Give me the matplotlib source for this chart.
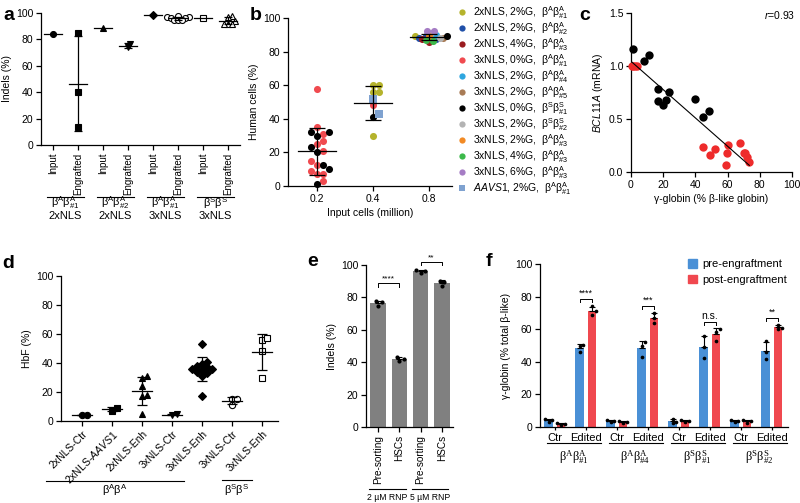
import numpy as np
import matplotlib
matplotlib.use('Agg')
import matplotlib.pyplot as plt
import matplotlib.transforms as mtransforms
from matplotlib.lines import Line2D
from matplotlib.patches import Patch

plt.rcParams.update({
    'font.family': ['Liberation Sans', 'DejaVu Sans'],
    'font.size': 7.5,
    'mathtext.fontset': 'custom',
    'mathtext.rm': 'Liberation Sans',
    'mathtext.it': 'Liberation Sans:italic',
    'mathtext.bf': 'Liberation Sans:bold',
    'mathtext.default': 'regular',
    'axes.linewidth': 0.9,
    'xtick.major.width': 0.9,
    'ytick.major.width': 0.9,
    'xtick.major.size': 3.5,
    'ytick.major.size': 3.5,
    'xtick.major.pad': 2,
    'ytick.major.pad': 2,
    'axes.labelpad': 3,
})

BAA1 = r'$\beta^A\beta^A_{\#1}$'

# ---- panel a data
a_ticks = ['Input', 'Engrafted'] * 4
a_groups = [BAA1, r'$\beta^A\beta^A_{\#2}$', BAA1, r'$\beta^S\beta^S$']
a_groups2 = ['2xNLS', '2xNLS', '3xNLS', '3xNLS']
a_values = [[84], [85, 40, 14], [89], [74, 76.5], [98.5],
            [98, 97, 97, 96, 96, 95, 95, 95], [96.5], [98, 97, 94, 92, 92, 92]]
a_markers = ['o', 's', '^', 'v', 'D', 'o', 's', '^']
a_filled = [True, True, True, True, True, False, False, False]

# ---- panel b data
b_labels = ['2xNLS, 2%G,  ' + BAA1, '2xNLS, 2%G,  ' + r'$\beta^A\beta^A_{\#2}$',
            '2xNLS, 4%G,  ' + r'$\beta^A\beta^A_{\#3}$', '3xNLS, 0%G,  ' + BAA1,
            '3xNLS, 2%G,  ' + r'$\beta^A\beta^A_{\#4}$', '3xNLS, 2%G,  ' + r'$\beta^A\beta^A_{\#5}$',
            '3xNLS, 0%G,  ' + r'$\beta^S\beta^S_{\#1}$', '3xNLS, 2%G,  ' + r'$\beta^S\beta^S_{\#2}$',
            '3xNLS, 2%G,  ' + r'$\beta^A\beta^A_{\#3}$', '3xNLS, 4%G,  ' + r'$\beta^A\beta^A_{\#3}$',
            '3xNLS, 6%G,  ' + r'$\beta^A\beta^A_{\#3}$', r'$\mathit{AAVS1}$, 2%G,  ' + BAA1]
b_colors = ['#b5b32c', '#1f4fa8', '#9a1b1f', '#f04a4f', '#2ea6df', '#a87b55',
            '#000000', '#b3b3b3', '#f28a24', '#3cb94a', '#a57cc4', '#7fa2d0']
b_cats = ['0.2', '0.4', '0.8']
b_series = [
    [3] * 12 + [6] * 8,
    [0, 0, 0, 0, 0, 11, 11, 3, 6],
    [7, 7, 10, 10, 1, 1, 1, 8, 4, 4, 5, 2, 2, 9, 9, 0, 6],
]
b_values = [
    [58, 35, 31, 27, 25, 21, 15, 12.5, 9, 7, 7, 3, 32, 32, 30, 23, 20, 12.5, 10, 1],
    [60, 60, 56, 56, 30, 52, 43, 48, 41],
    [88, 91, 92, 92, 87.5, 89.5, 88, 89, 89, 90, 88, 86, 87.5, 86.5, 87, 89, 89],
]

# ---- panel c data
c_black_x = [1.5, 8, 11, 17, 17, 20, 22, 23.5, 40, 45, 48.5]
c_black_y = [1.16, 1.05, 1.10, 0.78, 0.67, 0.63, 0.68, 0.75, 0.69, 0.52, 0.58]
c_red_x = [0.5, 1.5, 2.5, 3.5, 45, 49, 52, 59, 59.5, 60, 68, 70, 71, 72, 73.5]
c_red_y = [1.0, 1.0, 1.0, 1.0, 0.24, 0.16, 0.22, 0.07, 0.18, 0.25, 0.27, 0.18, 0.18, 0.14, 0.09]

# ---- panel d data
d_ticks = ['2xNLS-Ctr', r'2xNLS-$\mathit{AAVS1}$', '2xNLS-Enh', '3xNLS-Ctr',
           '3xNLS-Enh', '3xNLS-Ctr', '3xNLS-Enh']
d_values = [[4, 4], [7, 9], [31, 30, 24, 18, 17, 5], [4, 4.5],
            [53, 41, 39, 38, 37, 36, 36, 35, 34, 33, 31, 17],
            [15.5, 15.5, 11], [56, 57, 48, 30]]
d_markers = ['o', 's', '^', 'v', 'D', 'o', 's']
d_filled = [True, True, True, True, True, False, False]

# ---- panel e data
e_ticks = ['Pre-sorting', 'HSCs', 'Pre-sorting', 'HSCs']
e_groups = ['2 \u00b5M RNP', '5 \u00b5M RNP']
e_points = [[77.5, 77, 75], [43.5, 42, 41], [97, 96, 95], [90, 89.5, 87]]
e_sig = ['****', '**']
e_sig_y = [88.7, 101.7]

# ---- panel f data
f_ticks = ['Ctr', 'Edited'] * 4
f_groups = [BAA1, r'$\beta^A\beta^A_{\#4}$', r'$\beta^S\beta^S_{\#1}$', r'$\beta^S\beta^S_{\#2}$']
f_pre = [[5, 4, 3], [50.5, 49.5, 46], [4, 3.5, 3], [52, 50, 43],
         [5, 3, 2.5], [56, 49, 42.5], [4, 3.5, 3], [52.5, 46, 41.5]]
f_post = [[2.5, 2, 1.5], [74, 71, 69], [3.5, 3, 2.5], [70, 67, 64],
          [4, 3.5, 3], [60, 58.5, 52.5], [4.5, 3.5, 2.5], [62.5, 61, 60]]
f_sig = ['****', '***', 'n.s.', '**']

W, H = 800, 503
fig = plt.figure(figsize=(8, 5.03), dpi=100)


def fy(py):
    return 1 - py / H


def add_ax(x0, y0, x1, y1):
    ax = fig.add_axes([x0 / W, 1 - y1 / H, (x1 - x0) / W, (y1 - y0) / H])
    ax.spines['top'].set_visible(False)
    ax.spines['right'].set_visible(False)
    return ax


def swarm(vals, ppx, ppy, d, frac=0.95):
    # simple beeswarm, offsets in x data units
    vals = np.asarray(vals, dtype=float)
    offs = np.zeros(len(vals))
    placed = []
    cands = [0]
    for j in range(1, 40):
        cands += [j, -j]
    for i in np.argsort(vals):
        y = vals[i] * ppy
        for c in cands:
            x = c * d * 0.5 * frac
            if all((x - px) ** 2 + (y - py) ** 2 >= (d * frac) ** 2 for px, py in placed):
                break
        placed.append((x, y))
        offs[i] = x / ppx
    return offs


def group_line(ax, x0, x1, py):
    tr = mtransforms.blended_transform_factory(ax.transData, fig.transFigure)
    ax.plot([x0, x1], [fy(py), fy(py)], color='k', lw=0.8, transform=tr, clip_on=False)


def group_text(ax, x, py, s, **kw):
    tr = mtransforms.blended_transform_factory(ax.transData, fig.transFigure)
    ax.text(x, fy(py), s, transform=tr, ha='center', va='center', **kw)


def mean_sd(ax, x, vals, half, capsize):
    vals = np.asarray(vals, dtype=float)
    m = vals.mean()
    ax.plot([x - half, x + half], [m, m], color='k', lw=0.9, zorder=4)
    if len(vals) > 1:
        ax.errorbar(x, m, yerr=vals.std(ddof=1), color='k', lw=0.9,
                    capsize=capsize, capthick=0.9, zorder=4)


def bracket(ax, x0, x1, y, txt, h=2.0, fs=7):
    ax.plot([x0, x0, x1, x1], [y - h, y, y, y - h], color='k', lw=0.7, clip_on=False)
    ax.text((x0 + x1) / 2, y + 0.5, txt, ha='center', va='bottom', fontsize=fs)


# ================= a
ax = add_ax(41, 13, 240, 145)
for i, vals in enumerate(a_values):
    offs = swarm(vals, 25, 1.32, 6, frac=0.6)
    ax.plot(i + offs, vals, ls='none', marker=a_markers[i], ms=4.3,
            mfc='k' if a_filled[i] else 'white', mec='k', mew=0.8,
            clip_on=False, zorder=3)
    mean_sd(ax, i, vals, 0.36, 3)
ax.set_xlim(-0.48, 7.48)
ax.set_ylim(0, 100)
ax.set_yticks(range(0, 101, 20))
ax.set_xticks(range(8))
ax.set_xticklabels(a_ticks, rotation=90, fontsize=7)
ax.set_ylabel('Indels (%)')
for g in range(4):
    group_line(ax, 2 * g - 0.25, 2 * g + 1.25, 197)
    group_text(ax, 2 * g + 0.5, 203, a_groups[g], fontsize=8)
    group_text(ax, 2 * g + 0.5, 216, a_groups2[g], fontsize=8)

# ================= b
ax = add_ax(288, 18, 452, 186)
for cat in range(3):
    vals = np.array(b_values[cat], dtype=float)
    ser = np.array(b_series[cat])
    offs = swarm(vals, 56, 1.68, 7, frac=0.85 if cat < 2 else 0.5)
    for s in np.unique(ser):
        m = ser == s
        ax.scatter(cat + offs[m], vals[m], s=26, color=b_colors[s], lw=0,
                   marker='s' if s == 11 else 'o', zorder=3, clip_on=False)
    mean_sd(ax, cat, vals, 0.34, 6)
ax.set_xlim(-0.52, 2.41)
ax.set_ylim(0, 100)
ax.set_yticks(range(0, 101, 20))
ax.set_xticks(range(3))
ax.set_xticklabels(b_cats)
ax.set_xlabel('Input cells (million)')
ax.set_ylabel('Human cells (%)')
# legend drawn row by row to keep the tight spacing of the original
for k, (lab, col) in enumerate(zip(b_labels, b_colors)):
    yy = fy(12 + 16 * k)
    fig.add_artist(Line2D([462 / W], [yy], ls='none', marker='s' if k == 11 else 'o',
                          color=col, ms=4.5, mew=0, transform=fig.transFigure))
    fig.text(473 / W, fy(12 + 16 * k + 3.6), lab, va='baseline', ha='left', fontsize=7.5)

# ================= c
ax = add_ax(631, 13, 792, 172)
ax.scatter(c_black_x, c_black_y, s=36, color='k', lw=0, zorder=3, clip_on=False)
ax.scatter(c_red_x, c_red_y, s=36, color='#ee2b2b', lw=0, zorder=3, clip_on=False)
allx = np.array(c_black_x + c_red_x)
ally = np.array(c_black_y + c_red_y)
k, b0 = np.polyfit(allx, ally, 1)
xx = np.array([allx.min(), allx.max()])
ax.plot(xx, k * xx + b0, color='k', lw=0.8, zorder=4)
ax.set_xlim(0, 100)
ax.set_ylim(0, 1.5)
ax.set_xticks(range(0, 101, 20))
ax.set_yticks([0, 0.5, 1.0, 1.5])
ax.set_yticklabels(['0.0', '0.5', '1.0', '1.5'])
ax.set_xlabel('\u03b3-globin (% \u03b2-like globin)')
ax.set_ylabel(r'$\mathit{BCL11A}$ (mRNA)')
ax.text(1.02, 0.985, r'$\mathit{r}$=0.93', transform=ax.transAxes, ha='right', va='center')

# ================= d
ax = add_ax(61, 276, 278, 421)
for i, vals in enumerate(d_values):
    offs = swarm(vals, 30, 1.45, 6.5, frac=0.8)
    ax.plot(i + offs, vals, ls='none', marker=d_markers[i], ms=4.5,
            mfc='k' if d_filled[i] else 'white', mec='k', mew=0.8,
            clip_on=False, zorder=3)
    mean_sd(ax, i, vals, 0.34, 3.3)
ax.set_xlim(-0.7, 6.53)
ax.set_ylim(0, 100)
ax.set_yticks(range(0, 101, 20))
ax.set_xticks(range(7))
ax.set_xticklabels(d_ticks, rotation=45, ha='right', rotation_mode='anchor')
ax.set_ylabel('HbF (%)')
group_line(ax, -1.2, 3.4, 481)
group_text(ax, 1.1, 490, r'$\beta^A\beta^A$', fontsize=8)
group_line(ax, 4.65, 5.65, 480)
group_text(ax, 5.15, 490, r'$\beta^S\beta^S$', fontsize=8)

# ================= e
ax = add_ax(366, 265, 453, 427)
for i, pts in enumerate(e_points):
    pts = np.array(pts)
    m, sd = pts.mean(), pts.std(ddof=1)
    ax.bar(i, m, width=0.72, color='#808080', zorder=1)
    ax.errorbar(i, m, yerr=[[0], [sd]], color='k', lw=0.8, capsize=2.5, capthick=0.8, zorder=2)
    ax.scatter(i + swarm(pts, 21.3, 1.62, 4.5), pts, s=9, color='k', lw=0, zorder=3)
for j in range(2):
    bracket(ax, 2 * j, 2 * j + 1, e_sig_y[j], e_sig[j], h=2.0, fs=6)
ax.set_xlim(-0.56, 3.52)
ax.set_ylim(0, 100)
ax.set_yticks(range(0, 101, 20))
ax.set_xticks(range(4))
ax.set_xticklabels(e_ticks, rotation=90, fontsize=7.2)
ax.set_ylabel('Indels (%)')
for j in range(2):
    group_line(ax, 2 * j - 0.4, 2 * j + 1.3, 489)
    group_text(ax, 2 * j + 0.45, 497, e_groups[j], fontsize=6.2)

# ================= f
ax = add_ax(540, 264, 788, 427)
blue, red = '#4a90d6', '#f0484f'
for i in range(8):
    for pts, dx, col in ((f_pre[i], -0.2, blue), (f_post[i], 0.2, red)):
        pts = np.array(pts)
        m, sd = pts.mean(), pts.std(ddof=1)
        ax.bar(i + dx, m, width=0.28, color=col, zorder=1)
        ax.errorbar(i + dx, m, yerr=[[0], [sd]], color='k', lw=0.8,
                    capsize=2, capthick=0.8, zorder=2)
        ax.scatter(i + dx + swarm(pts, 31, 1.63, 4), pts, s=7, color='k', lw=0, zorder=3)
for g in range(4):
    i = 2 * g + 1
    top = max(max(f_pre[i]), max(f_post[i]))
    bracket(ax, i - 0.2, i + 0.2, top + 4.5, f_sig[g], h=2.0, fs=6.5 if g != 2 else 7.5)
ax.set_xlim(-0.48, 7.52)
ax.set_ylim(0, 100)
ax.set_yticks(range(0, 101, 20))
ax.set_xticks(range(8))
ax.set_xticklabels(f_ticks, fontsize=8)
ax.tick_params(axis='x', length=2.5)
ax.set_ylabel('\u03b3-globin (% total \u03b2-like)')
for g in range(4):
    group_line(ax, 2 * g - 0.25, 2 * g + 1.5, 443)
    group_text(ax, 2 * g + 0.6, 457, f_groups[g], fontsize=9, family='Liberation Serif')
ax.legend([Patch(color=blue), Patch(color=red)], ['pre-engraftment', 'post-engraftment'],
          loc='upper left', bbox_to_anchor=(688 / W, fy(259)), bbox_transform=fig.transFigure,
          frameon=False, handlelength=0.8, handleheight=0.8, handletextpad=0.5,
          labelspacing=0.5, borderpad=0, borderaxespad=0, fontsize=8)

# ---- panel letters
for s, x, y in [('a', 3, 20), ('b', 250, 20), ('c', 579, 20),
                ('d', 2, 268), ('e', 307, 266), ('f', 486, 266)]:
    fig.text(x / W, fy(y), s, fontsize=14, fontweight='bold', va='baseline')

fig.savefig('out.png', dpi=100)
